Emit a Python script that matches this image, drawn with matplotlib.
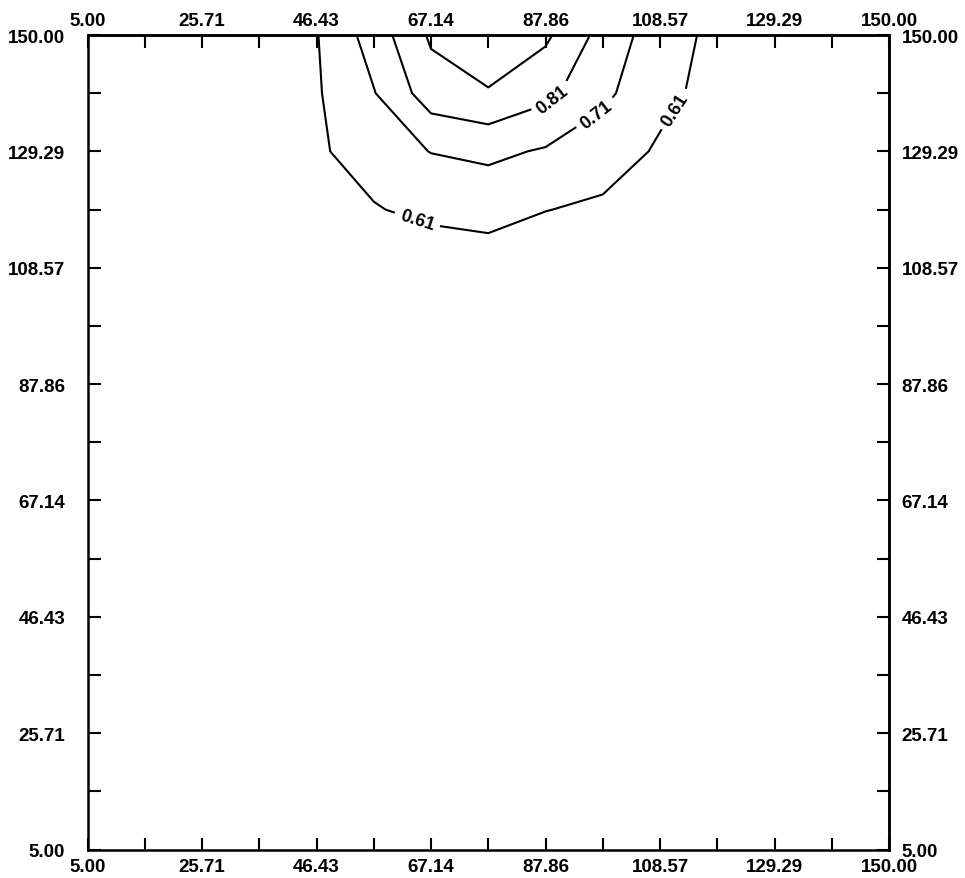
import numpy as np
import matplotlib.pyplot as plt

plt.rcParams['font.family'] = ['Liberation Sans', 'DejaVu Sans']
plt.rcParams['font.weight'] = 'bold'

# ------------------------------------------------------------
# Grid nodes and field values
# ------------------------------------------------------------
x_nodes = [5.00, 15.36, 25.71, 36.07, 46.43, 56.79, 67.14, 77.50,
           87.86, 98.21, 108.57, 118.93, 129.29, 139.64, 150.00]
y_nodes = [5.00, 15.36, 25.71, 36.07, 46.43, 56.79, 67.14, 77.50,
           87.86, 98.21, 108.57, 118.93, 129.29, 139.64, 150.00]

background = [0.50] * 15
row_108 = [0.50, 0.50, 0.51, 0.52, 0.53, 0.54, 0.50, 0.566, 0.55, 0.54, 0.53, 0.52, 0.51, 0.50, 0.50]
row_119 = [0.50, 0.51, 0.52, 0.55, 0.58, 0.60, 0.649, 0.64, 0.612, 0.596, 0.58, 0.56, 0.55, 0.53, 0.52]
row_129 = [0.50, 0.51, 0.53, 0.56, 0.59, 0.674, 0.712, 0.732, 0.70, 0.65, 0.60, 0.58, 0.56, 0.54, 0.53]
row_140 = [0.50, 0.52, 0.54, 0.57, 0.60, 0.705, 0.862, 0.90, 0.836, 0.734, 0.630, 0.584, 0.57, 0.55, 0.54]
row_150 = [0.50, 0.52, 0.54, 0.57, 0.605, 0.755, 0.925, 1.00, 0.928, 0.776, 0.654, 0.586, 0.57, 0.55, 0.54]

z_rows = [background] * 10 + [row_108, row_119, row_129, row_140, row_150]

levels = [0.61, 0.71, 0.81, 0.91]
label_levels = [0.61, 0.71, 0.81]
label_spots = [(64.6, 116.9), (111.0, 136.9), (97.2, 135.6), (89.3, 138.3)]

major_ticks = [5.00, 25.71, 46.43, 67.14, 87.86, 108.57, 129.29, 150.00]
minor_ticks = [15.36, 36.07, 56.79, 77.50, 98.21, 118.93, 139.64]

# ------------------------------------------------------------
# Plot
# ------------------------------------------------------------
fig = plt.figure(figsize=(9.65, 8.79), dpi=100)
ax = fig.add_axes([0.0907, 0.0324, 0.8306, 0.9266])

X, Y = np.meshgrid(x_nodes, y_nodes)
Z = np.array(z_rows)
cs = ax.contour(X, Y, Z, levels=levels, colors='black', linewidths=1.5)
ax.clabel(cs, levels=label_levels, manual=label_spots, fmt='%.2f',
          fontsize=13, inline=True, inline_spacing=6, colors='black')

ax.set_xlim(5, 150)
ax.set_ylim(5, 150)

for sp in ax.spines.values():
    sp.set_linewidth(1.8)

fmt = lambda v: f"{v:.2f}"
tick_size = 13.5

ax.set_xticks(major_ticks)
ax.set_xticks(minor_ticks, minor=True)
ax.set_xticklabels([fmt(v) for v in major_ticks])
ax.set_yticks(major_ticks)
ax.set_yticks(minor_ticks, minor=True)
ax.set_yticklabels([fmt(v) for v in major_ticks])
ax.tick_params(axis='both', which='both', direction='in', length=9, width=1.5,
               labelsize=tick_size)
ax.tick_params(axis='x', which='both', top=False, pad=6)
ax.tick_params(axis='y', which='both', right=False, pad=16)

secx = ax.secondary_xaxis('top')
secx.set_xticks(major_ticks)
secx.set_xticks(minor_ticks, minor=True)
secx.set_xticklabels([fmt(v) for v in major_ticks])
secx.tick_params(which='both', direction='in', length=9, width=1.5,
                 labelsize=tick_size, pad=4)
secx.spines['top'].set_linewidth(1.8)

secy = ax.secondary_yaxis('right')
secy.set_yticks(major_ticks)
secy.set_yticks(minor_ticks, minor=True)
secy.set_yticklabels([fmt(v) for v in major_ticks])
secy.tick_params(which='both', direction='in', length=9, width=1.5,
                 labelsize=tick_size, pad=9)
secy.spines['right'].set_linewidth(1.8)

fig.savefig("out.png", dpi=100)
